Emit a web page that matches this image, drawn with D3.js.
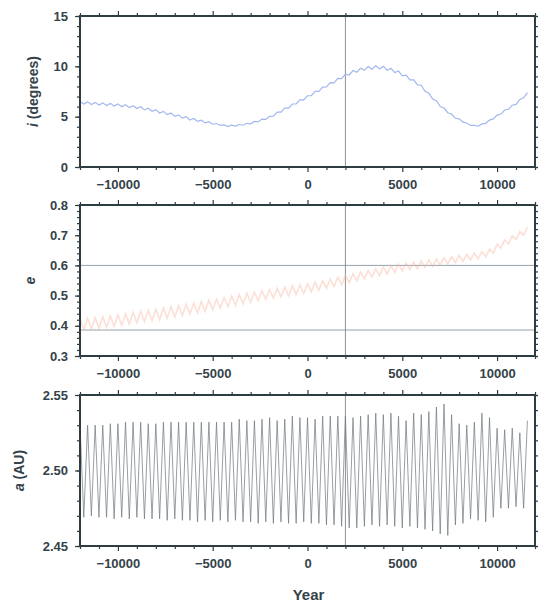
<!DOCTYPE html>
<html>
<head>
<meta charset="utf-8">
<script src="https://d3js.org/d3.v7.min.js"></script>
<style>
  body { margin: 0; background: #fff; }
  text { font-family: "Liberation Sans", Arial, sans-serif; }
</style>
</head>
<body>
<div id="chart"></div>
<script>
    // three stacked panels: inclination, eccentricity, semi-major axis vs year
    // values, one sample every 200 years (peaks and troughs alternate)

    var yearStart = -12000, yearStep = 200;
    var xDomain = [-12000, 12000];
    var xTicks = [-10000, -5000, 0, 5000, 10000];
    var markYear = 2000;

    // i (degrees)
    var incl = [
      6.52, 6.25, 6.47, 6.20, 6.42, 6.15, 6.37, 6.10, 6.32, 6.05,
      6.27, 5.99, 6.18, 5.90, 6.09, 5.81, 5.98, 5.67, 5.84, 5.53,
      5.70, 5.37, 5.53, 5.20, 5.36, 5.03, 5.18, 4.85, 5.00, 4.67,
      4.82, 4.53, 4.65, 4.38, 4.50, 4.25, 4.32, 4.13, 4.18, 4.02,
      4.15, 4.06, 4.22, 4.15, 4.34, 4.29, 4.53, 4.48, 4.76, 4.73,
      5.03, 5.05, 5.45, 5.45, 5.85, 5.85, 6.26, 6.26, 6.67, 6.67,
      7.08, 7.09, 7.51, 7.52, 7.94, 7.95, 8.38, 8.35, 8.80, 8.77,
      9.22, 9.13, 9.58, 9.41, 9.82, 9.60, 9.97, 9.72, 10.05, 9.74,
      10.00, 9.61, 9.80, 9.38, 9.53, 9.05, 9.12, 8.66, 8.66, 8.16,
      8.12, 7.52, 7.34, 6.76, 6.58, 6.00, 5.86, 5.39, 5.26, 4.84,
      4.78, 4.45, 4.37, 4.13, 4.13, 4.05, 4.28, 4.34, 4.66, 4.78,
      5.16, 5.26, 5.66, 5.74, 6.14, 6.22, 6.71, 6.88, 7.38
    ];
    var inclTicks = [0, 5, 10, 15];

    // e
    var ecc = [
      0.423, 0.388, 0.425, 0.390, 0.427, 0.392, 0.430, 0.395, 0.433, 0.398,
      0.436, 0.402, 0.440, 0.406, 0.444, 0.410, 0.448, 0.414, 0.451, 0.417,
      0.455, 0.421, 0.459, 0.425, 0.463, 0.429, 0.466, 0.434, 0.471, 0.439,
      0.475, 0.443, 0.480, 0.448, 0.485, 0.453, 0.488, 0.459, 0.493, 0.464,
      0.498, 0.468, 0.503, 0.473, 0.508, 0.478, 0.511, 0.483, 0.516, 0.488,
      0.520, 0.492, 0.524, 0.496, 0.528, 0.500, 0.532, 0.504, 0.535, 0.507,
      0.539, 0.513, 0.544, 0.518, 0.549, 0.524, 0.555, 0.530, 0.561, 0.536,
      0.567, 0.543, 0.572, 0.549, 0.578, 0.555, 0.584, 0.561, 0.589, 0.566,
      0.595, 0.572, 0.599, 0.577, 0.604, 0.582, 0.608, 0.586, 0.611, 0.589,
      0.615, 0.594, 0.618, 0.597, 0.621, 0.601, 0.625, 0.605, 0.629, 0.609,
      0.633, 0.614, 0.636, 0.618, 0.640, 0.622, 0.645, 0.628, 0.654, 0.641,
      0.670, 0.657, 0.684, 0.671, 0.698, 0.685, 0.712, 0.700, 0.727
    ];
    var eccTicks = [0.3, 0.4, 0.5, 0.6, 0.7, 0.8];
    var eccLines = [0.386, 0.6];

    // a (AU): peaks every 400 years, troughs in between
    var axisPeaks = [
      2.531, 2.530, 2.530, 2.530, 2.531, 2.531, 2.532, 2.532, 2.532, 2.531,
      2.531, 2.532, 2.532, 2.532, 2.532, 2.532, 2.532, 2.532, 2.532, 2.532,
      2.532, 2.534, 2.533, 2.533, 2.534, 2.535, 2.533, 2.534, 2.536, 2.535,
      2.535, 2.534, 2.536, 2.536, 2.536, 2.536, 2.535, 2.536, 2.537, 2.538,
      2.537, 2.538, 2.536, 2.533, 2.538, 2.537, 2.539, 2.542, 2.544, 2.537,
      2.531, 2.530, 2.532, 2.538, 2.535, 2.528, 2.527, 2.528, 2.525, 2.533
    ];
    var axisTroughs = [
      2.469, 2.470, 2.469, 2.469, 2.468, 2.469, 2.468, 2.469, 2.468, 2.468,
      2.468, 2.467, 2.468, 2.467, 2.467, 2.466, 2.467, 2.466, 2.467, 2.466,
      2.467, 2.466, 2.466, 2.465, 2.466, 2.465, 2.466, 2.465, 2.465, 2.466,
      2.465, 2.465, 2.464, 2.464, 2.463, 2.462, 2.462, 2.463, 2.464, 2.463,
      2.464, 2.463, 2.462, 2.463, 2.462, 2.461, 2.460, 2.458, 2.457, 2.464,
      2.465, 2.468, 2.467, 2.466, 2.469, 2.475, 2.475, 2.476, 2.475
    ];
    var axisTicks = [2.45, 2.50, 2.55];

    // interleave peaks and troughs into one series
    var semi = [];
    axisPeaks.forEach(function (p, j) {
      semi.push(p);
      if (j < axisTroughs.length) semi.push(axisTroughs[j]);
    });

    var frameColor = "#2f3d42",
        textColor = "#34424a";

    var svg = d3.select("#chart")
      .append("svg")
        .attr("width", 538)
        .attr("height", 604);

    var left = 80, right = 535, panelH = 151;

    var x = d3.scaleLinear().domain(xDomain).range([left, right]);

    var minorYears = d3.range(-12000, 12001, 1000).filter(function (d) { return xTicks.indexOf(d) < 0; });

    var panels = [
      { top: 16, values: incl, domain: [0, 15], ticks: inclTicks, minor: 1, fmt: d3.format("d"),
        letter: "i", rest: " (degrees)", titleX: 33,
        color: "#a3b7ee", width: 1.2, opacity: 1 },
      { top: 205, values: ecc, domain: [0.3, 0.8], ticks: eccTicks, minor: 0.02, fmt: d3.format(".1f"),
        letter: "e", rest: "", titleX: 30, hlines: eccLines,
        color: "#f8b9a2", width: 1.6, opacity: 0.45 },
      { top: 395, values: semi, domain: [2.45, 2.55], ticks: axisTicks, minor: 0.01, fmt: d3.format(".2f"),
        letter: "a", rest: " (AU)", titleX: 19,
        color: "#6f797f", width: 0.9, opacity: 0.8 }
    ];

    panels.forEach(function (p, n) {
      var bottom = p.top + panelH;
      var y = d3.scaleLinear().domain(p.domain).range([bottom, p.top]);
      var g = svg.append("g");

      var clipId = "clip" + n;
      g.append("clipPath").attr("id", clipId)
        .append("rect")
          .attr("x", left).attr("y", p.top)
          .attr("width", right - left).attr("height", panelH);

      // reference lines
      if (p.hlines) {
        g.selectAll(".hline")
          .data(p.hlines)
          .enter()
          .append("line")
            .attr("x1", left).attr("x2", right)
            .attr("y1", function (d) { return y(d); })
            .attr("y2", function (d) { return y(d); })
            .style("stroke", "#95a3ab")
            .style("stroke-width", 1);
      }
      g.append("line")
        .attr("x1", x(markYear)).attr("x2", x(markYear))
        .attr("y1", p.top).attr("y2", bottom)
        .style("stroke", "#8a949a")
        .style("stroke-width", 1);

      // the series
      var line = d3.line()
        .x(function (d, k) { return x(yearStart + k * yearStep); })
        .y(function (d) { return y(d); });

      g.append("path")
        .datum(p.values)
        .attr("clip-path", "url(#" + clipId + ")")
        .attr("d", line)
        .style("fill", "none")
        .style("stroke", p.color)
        .style("stroke-width", p.width)
        .style("stroke-opacity", p.opacity);

      // axes: labelled majors on bottom/left, minors, mirrored ticks top/right
      var minorY = d3.range(p.domain[0], p.domain[1] + p.minor / 2, p.minor);

      function addAxis(axis, tx, ty) {
        var a = g.append("g")
          .attr("transform", "translate(" + tx + "," + ty + ")")
          .call(axis);
        a.select(".domain").remove();
        a.selectAll("line").style("stroke", frameColor).style("stroke-width", 1.2);
        a.selectAll("text")
          .style("font-size", "13px")
          .style("font-weight", "bold")
          .style("fill", textColor)
          .style("font-family", "'Liberation Sans', Arial, sans-serif");
        return a;
      }

      addAxis(d3.axisBottom(x).tickValues(xTicks).tickSize(5).tickPadding(8).tickFormat(d3.format("d")), 0, bottom);
      addAxis(d3.axisBottom(x).tickValues(minorYears).tickSize(3).tickFormat(""), 0, bottom);
      addAxis(d3.axisTop(x).tickValues(xTicks).tickSize(5).tickFormat(""), 0, p.top);
      addAxis(d3.axisTop(x).tickValues(minorYears).tickSize(3).tickFormat(""), 0, p.top);

      addAxis(d3.axisLeft(y).tickValues(p.ticks).tickSize(5).tickPadding(7).tickFormat(p.fmt), left, 0);
      addAxis(d3.axisLeft(y).tickValues(minorY).tickSize(3).tickFormat(""), left, 0);
      addAxis(d3.axisRight(y).tickValues(p.ticks).tickSize(5).tickFormat(""), right, 0);
      addAxis(d3.axisRight(y).tickValues(minorY).tickSize(3).tickFormat(""), right, 0);

      // frame
      g.append("rect")
        .attr("x", left).attr("y", p.top)
        .attr("width", right - left).attr("height", panelH)
        .style("fill", "none")
        .style("stroke", frameColor)
        .style("stroke-width", 2);

      // y title
      var t = g.append("text")
        .attr("transform", "translate(" + p.titleX + "," + (p.top + panelH / 2) + ") rotate(-90)")
        .attr("text-anchor", "middle")
        .attr("dy", "0.35em")
        .style("font-size", "14px")
        .style("font-weight", "bold")
        .style("fill", textColor);
      t.append("tspan").style("font-style", "italic").text(p.letter);
      t.append("tspan").text(p.rest);
    });

    // x title
    svg.append("text")
      .attr("x", x(0) + 1)
      .attr("y", 600)
      .attr("text-anchor", "middle")
      .style("font-size", "15px")
      .style("font-weight", "bold")
      .style("fill", textColor)
      .text("Year");
</script>
</body>
</html>
